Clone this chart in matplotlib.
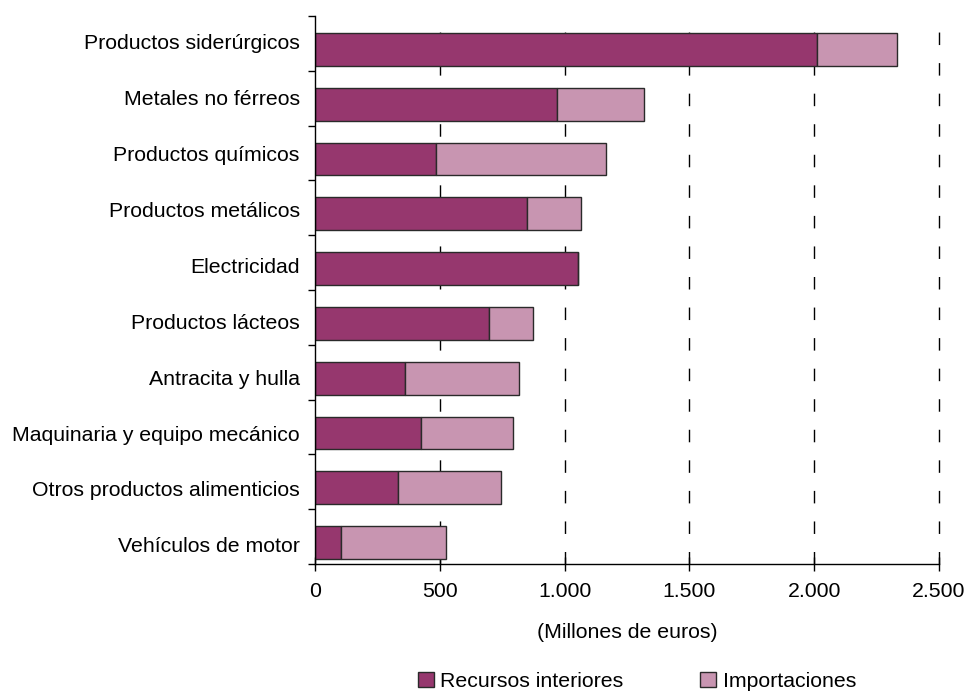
import matplotlib
matplotlib.use("Agg")
import matplotlib.pyplot as plt
import numpy as np
from matplotlib.ticker import FixedLocator

plt.rcParams['font.family'] = ['Liberation Sans', 'DejaVu Sans']

categories = ["Productos siderúrgicos", "Metales no férreos", "Productos químicos",
              "Productos metálicos", "Electricidad", "Productos lácteos",
              "Antracita y hulla", "Maquinaria y equipo mecánico",
              "Otros productos alimenticios", "Vehículos de motor"]
recursos_interiores = [2013, 968, 484, 848, 1054, 696, 362, 426, 334, 106]
totales = [2333, 1317, 1165, 1065, 1054, 872, 818, 792, 747, 526]
importaciones = [t - r for t, r in zip(totales, recursos_interiores)]
xticks = [0, 500, 1000, 1500, 2000, 2500]
xtick_labels = ["0", "500", "1.000", "1.500", "2.000", "2.500"]
series_names = ["Recursos interiores", "Importaciones"]

c_int = "#96376E"
c_imp = "#C895B1"
edge = "#2a2a2a"
FS = 15.3

fig = plt.figure(figsize=(9.71, 6.93), dpi=100)
ax = fig.add_axes([315/971, 1 - 564/693, (939-315)/971, (564-16)/693])

y = np.arange(len(categories))
for xv in xticks[1:]:
    ax.axvline(xv, color="black", lw=1.0, linestyle=(0, (9, 13)), zorder=0, clip_on=False)

ybar = y + 0.11
ax.barh(ybar, recursos_interiores, height=0.6, color=c_int, edgecolor=edge, lw=1.0,
        label=series_names[0], zorder=2)
ax.barh(ybar, importaciones, left=recursos_interiores, height=0.6, color=c_imp,
        edgecolor=edge, lw=1.0, label=series_names[1], zorder=2)

ax.set_xlim(0, 2500)
ax.set_ylim(9.5, -0.5)
ax.set_xticks(xticks)
ax.set_xticklabels(xtick_labels, fontsize=FS)
ax.set_yticks(-0.03 + 1.02 * y)
ax.set_yticklabels(categories, fontsize=FS)
ax.tick_params(axis='y', length=0, pad=11)
ax.yaxis.set_minor_locator(FixedLocator(np.arange(-0.5, len(categories), 1.0)))
ax.tick_params(axis='y', which='minor', length=5, width=1, direction='out')
ax.tick_params(axis='x', direction='inout', length=10, width=1, pad=8)
for s in ["top", "right"]:
    ax.spines[s].set_visible(False)
ax.spines["left"].set_linewidth(1)
ax.spines["bottom"].set_linewidth(1)
ax.set_xlabel("(Millones de euros)", fontsize=FS, labelpad=16)

handles, labels = ax.get_legend_handles_labels()
fig.legend(handles, labels, loc="center", bbox_to_anchor=(637/971, 0.017), ncol=2,
           frameon=False, fontsize=FS, handlelength=0.75, handleheight=0.75,
           handletextpad=0.3, columnspacing=3.6)

fig.savefig("out.png", dpi=100)
